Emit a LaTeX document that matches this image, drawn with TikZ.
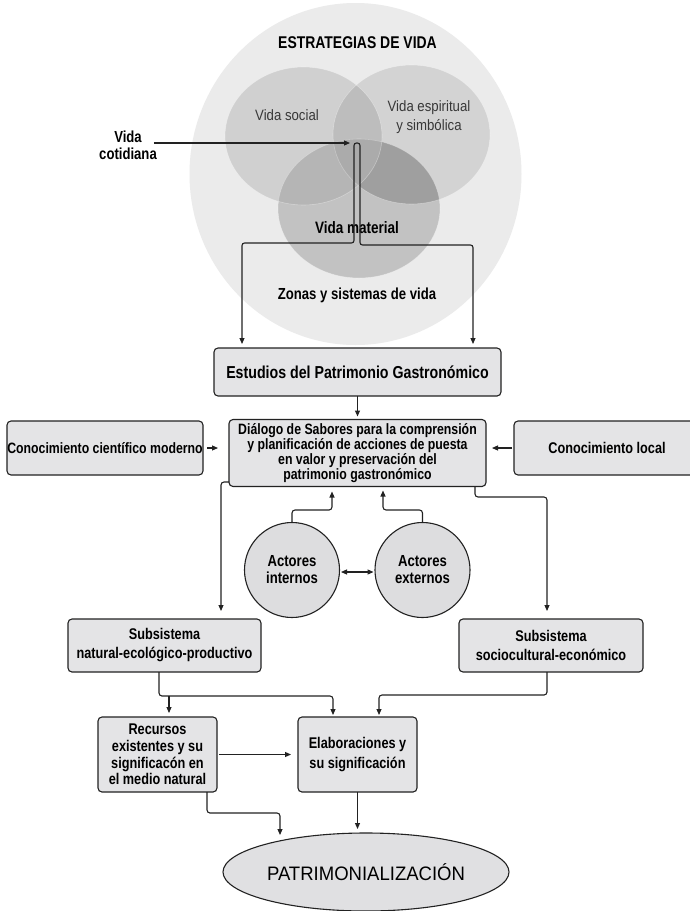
\documentclass[tikz,border=0pt]{standalone}
\usepackage{fontspec}
\setmainfont{Liberation Sans}[FakeStretch=0.82]
\newfontfamily\regfont{Liberation Sans}[FakeStretch=0.88]
\newfontfamily\patfont{Liberation Sans}[FakeStretch=0.95]
\usetikzlibrary{arrows.meta,shapes.geometric,calc}
\definecolor{boxfill}{HTML}{E4E4E6}
\definecolor{actfill}{HTML}{DDDDDF}
\definecolor{patfill}{HTML}{E0E0E2}
\definecolor{lncol}{HTML}{222222}
\definecolor{cO}{HTML}{EBEBEB}
\definecolor{cS}{HTML}{D0D0D0}
\definecolor{cE}{HTML}{D3D3D3}
\definecolor{cM}{HTML}{C2C2C2}
\definecolor{cSE}{HTML}{BDBDBD}
\definecolor{cSM}{HTML}{B5B5B5}
\definecolor{cEM}{HTML}{9F9F9F}
\definecolor{cSEM}{HTML}{ABABAB}
\newcommand{\fsz}[2]{\fontsize{#1}{#2}\selectfont}
\begin{document}
\begin{tikzpicture}[x=1pt,y=-1pt,
  every node/.style={inner sep=0pt, outer sep=0pt},
  box/.style={draw=lncol, line width=1.1pt, rounded corners=4pt, fill=boxfill, align=center},
  actor/.style={circle, draw=lncol, line width=1.1pt, fill=actfill, minimum size=95pt, align=center, font={\fsz{16}{17}\bfseries}},
  conn/.style={draw=lncol, line width=1.1pt, rounded corners=3pt, -{Triangle[length=6pt,width=5pt]}},
  dconn/.style={draw=lncol, line width=1.1pt, {Triangle[length=6pt,width=5pt]}-{Triangle[length=6pt,width=5pt]}},
  venn/.style={draw=white, draw opacity=0.35, line width=0.6pt}
]
\fill[white] (0,0) rectangle (690,911);
\useasboundingbox (0,0) rectangle (690,911);

% Venn diagram
\fill[cO] (355.5,174) ellipse [x radius=166, y radius=171];
\fill[cS] (303.5,136) ellipse [x radius=78.5, y radius=69];
\fill[cE] (411.5,134.5) ellipse [x radius=78.5, y radius=69.5];
\fill[cM] (359,208.5) ellipse [x radius=81, y radius=69.5];
\begin{scope}
  \clip (303.5,136) ellipse [x radius=78.5, y radius=69];
  \fill[cSE] (411.5,134.5) ellipse [x radius=78.5, y radius=69.5];
\end{scope}
\begin{scope}
  \clip (359,208.5) ellipse [x radius=81, y radius=69.5];
  \fill[cSM] (303.5,136) ellipse [x radius=78.5, y radius=69];
  \fill[cEM] (411.5,134.5) ellipse [x radius=78.5, y radius=69.5];
  \begin{scope}
    \clip (303.5,136) ellipse [x radius=78.5, y radius=69];
    \fill[cSEM] (411.5,134.5) ellipse [x radius=78.5, y radius=69.5];
  \end{scope}
\end{scope}
\draw[venn] (303.5,136) ellipse [x radius=78.5, y radius=69];
\draw[venn] (411.5,134.5) ellipse [x radius=78.5, y radius=69.5];
\draw[venn] (359,208.5) ellipse [x radius=81, y radius=69.5];

\node[font={\fsz{17}{19}\bfseries}] (title) at (357.5,43) {ESTRATEGIAS DE VIDA};
\node[font={\regfont\fsz{15}{17}}, text=black!78] (vs) at (287,115) {Vida social};
\node[font={\regfont\fsz{15}{19}}, text=black!78, align=center] (ve) at (429,117) {Vida espiritual\\y simbólica};
\node[font={\fsz{16.5}{18}\bfseries}] (vm) at (357,228) {Vida material};
\node[font={\fsz{16}{18}\bfseries}] (zs) at (357,295) {Zonas y sistemas de vida};
\node[font={\fsz{16}{17}\bfseries}, align=center] (vc) at (128,145) {Vida\\cotidiana};

% boxes
\node[box, minimum width=287pt, minimum height=48pt, font={\fsz{17.3}{19}\bfseries}] (est) at (357.5,372) {Estudios del Patrimonio Gastronómico};
\node[box, minimum width=257pt, minimum height=67pt, font={\fsz{15}{15}\bfseries}] (dia) at (357.5,453) {Diálogo de Sabores para la comprensión\\y planificación de acciones de puesta\\en valor y preservación del\\patrimonio gastronómico};
\node[box, minimum width=196pt, minimum height=54pt, font={\fsz{15}{17}\bfseries}] (ccm) at (105,448) {Conocimiento científico moderno};
\node[box, minimum width=186pt, minimum height=54pt, font={\fsz{15.5}{17}\bfseries}] (cl) at (607,448) {Conocimiento local};
\node[actor] (ai) at (292,570) {Actores\\internos};
\node[actor] (ae) at (422.5,570) {Actores\\externos};
\node[box, minimum width=193pt, minimum height=53pt, font={\fsz{15.5}{19}\bfseries}] (sn) at (164.5,645.5) {Subsistema\\natural-ecológico-productivo};
\node[box, minimum width=184pt, minimum height=53pt, font={\fsz{15.5}{19}\bfseries}] (ss) at (551,645.5) {Subsistema\\sociocultural-económico};
\node[box, minimum width=119pt, minimum height=75pt, font={\fsz{15.5}{16.7}\bfseries}] (rec) at (157.5,754.5) {Recursos\\existentes y su\\significacón en\\el medio natural};
\node[box, minimum width=119pt, minimum height=75pt, font={\fsz{15.5}{20}\bfseries}] (ela) at (357.5,754.5) {Elaboraciones y\\su significación};
\node[ellipse, draw=lncol, line width=1.1pt, fill=patfill, minimum width=286pt, minimum height=78pt, font={\patfont\fsz{19.5}{21}}] (pat) at (366,872) {PATRIMONIALIZACIÓN};

% connectors
\coordinate (vt) at (350,143);
\draw[conn, shorten <=-3pt] (vc.east |- vt) -- (vt);

\coordinate (p1) at (242,243);
\coordinate (p2) at (354,243);
\coordinate (p3) at (354,143);
\coordinate (p4) at (360,143);
\coordinate (p5) at (360,245);
\coordinate (p6) at (473,245);
\draw[dconn, rounded corners=2.5pt, shorten <=4pt, shorten >=4pt] (est.north -| p1) -- (p1) -- (p2) -- (p3) -- (p4) -- (p5) -- (p6) -- (est.north -| p6);

\draw[conn, shorten >=3pt] (est.south) -- (dia.north);
\draw[conn, shorten <=4pt, shorten >=11pt] (ccm.east) -- (ccm.east -| dia.west);
\draw[conn, shorten <=2pt, shorten >=6pt] (cl.west) -- (cl.west -| dia.east);

\coordinate (l1) at (221,482);
\draw[conn, shorten >=8pt] (dia.west |- l1) -- (l1) -- (l1 |- sn.north);
\coordinate (r1) at (475,497);
\coordinate (r2) at (547,497);
\draw[conn, shorten >=8pt] (dia.south -| r1) -- (r1) -- (r2) -- (r2 |- ss.north);

\coordinate (a1) at (292,510);
\coordinate (a2) at (332,510);
\draw[conn, shorten >=5pt] (ai.north) -- (a1) -- (a2) -- (a2 |- dia.south);
\coordinate (b1) at (422.5,510);
\coordinate (b2) at (383,510);
\draw[conn, shorten >=4pt] (ae.north) -- (b1) -- (b2) -- (b2 |- dia.south);
\draw[dconn, shorten <=1.5pt, shorten >=1.5pt] ([yshift=-2pt]ai.east) -- ([yshift=-2pt]ae.west);

\coordinate (s1) at (159,696);
\coordinate (s2) at (333,696);
\coordinate (s3) at (169,696);
\draw[conn, shorten >=2pt] (sn.south -| s1) -- (s1) -- (s2) -- (s2 |- ela.north);
\draw[conn, shorten >=4pt] (s3) -- (s3 |- rec.north);
\coordinate (t1) at (547,695);
\coordinate (t2) at (379,695);
\draw[conn, shorten >=2pt] (ss.south -| t1) -- (t1) -- (t2) -- (t2 |- ela.north);
\draw[conn, shorten <=2pt, shorten >=7pt] (rec.east) -- (rec.east -| ela.west);

\coordinate (u1) at (207,813);
\coordinate (u2) at (280,813);
\draw[conn, shorten >=-2pt] (rec.south -| u1) -- (u1) -- (u2) -- (u2 |- pat.north);
\draw[conn, shorten >=4pt] (ela.south) -- (ela.south |- pat.north);
\end{tikzpicture}
\end{document}
